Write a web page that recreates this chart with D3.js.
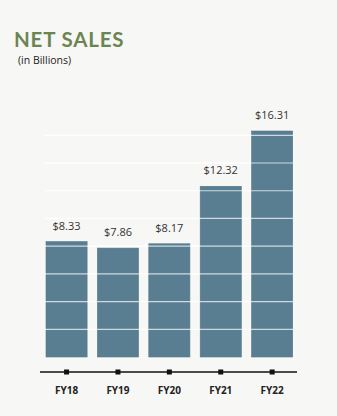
<!DOCTYPE html>
<html>
<head>
<meta charset="utf-8">
<script src="https://cdn.jsdelivr.net/npm/d3@7"></script>
<style>
  html, body { margin: 0; padding: 0; background: #f7f7f5; }
  svg { display: block; }
</style>
</head>
<body>
<svg id="chart"></svg>
<script>
const years = ["FY18", "FY19", "FY20", "FY21", "FY22"];
const sales = [8.33, 7.86, 8.17, 12.32, 16.31];
const gridValues = [2, 4, 6, 8, 10, 12, 14, 16];

const width = 337;
const height = 416;

const svg = d3.select("#chart")
    .attr("width", width)
    .attr("height", height);

svg.append("rect")
    .attr("width", width)
    .attr("height", height)
    .attr("fill", "#f7f7f5");

// title
svg.append("text")
    .attr("x", 14)
    .attr("y", 47)
    .style("font-family", "Lato, 'Open Sans', sans-serif")
    .style("font-weight", "700")
    .style("font-size", "20.5px")
    .style("letter-spacing", "0.8px")
    .attr("fill", "#6b8552")
    .text("NET SALES");

svg.append("text")
    .attr("x", 18)
    .attr("y", 64)
    .style("font-family", "'Open Sans', sans-serif")
    .style("font-size", "10.5px")
    .attr("fill", "#222")
    .text("(in Billions)");

const x = d3.scaleBand()
    .domain(years)
    .range([46, 292.7])
    .paddingInner(0.2)
    .paddingOuter(0);

const y = d3.scaleLinear()
    .domain([0, 16])
    .range([357, 135.3]);

const data = years.map((d, i) => ({ key: d, value: sales[i] }));

// faint gridlines behind
svg.append("g")
    .selectAll("line")
    .data(gridValues)
    .enter()
    .append("line")
    .attr("x1", 45)
    .attr("x2", 293)
    .attr("y1", d => y(d))
    .attr("y2", d => y(d))
    .attr("stroke", "#ffffff")
    .attr("stroke-width", 1);

svg.selectAll(".bar")
    .data(data)
    .enter()
    .append("rect")
    .attr("class", "bar")
    .attr("x", d => x(d.key))
    .attr("y", d => y(d.value))
    .attr("width", x.bandwidth())
    .attr("height", d => y(0) - y(d.value))
    .attr("fill", "#5a7e91")
    .attr("stroke", "#50788b")
    .attr("stroke-width", 0.6);

// gridlines over the bars
svg.append("g")
    .selectAll("line")
    .data(gridValues)
    .enter()
    .append("line")
    .attr("x1", 45)
    .attr("x2", 293)
    .attr("y1", d => y(d))
    .attr("y2", d => y(d))
    .attr("stroke", "#ffffff")
    .attr("stroke-opacity", 0.7)
    .attr("stroke-width", 1.2);

svg.selectAll(".label")
    .data(data)
    .enter()
    .append("text")
    .attr("class", "label")
    .attr("x", d => x(d.key) + x.bandwidth() / 2)
    .attr("y", d => y(d.value) - 12)
    .attr("text-anchor", "middle")
    .style("font-family", "'Open Sans', sans-serif")
    .style("font-size", "11px")
    .attr("fill", "#333")
    .text(d => "$" + d3.format(".2f")(d.value));

// x axis
const axisY = 372;
const xAxis = svg.append("g")
    .attr("transform", `translate(0, ${axisY})`)
    .call(d3.axisBottom(x).tickSize(0).tickPadding(15));

xAxis.select(".domain").remove();
xAxis.insert("line", ":first-child")
    .attr("x1", 40)
    .attr("x2", 297)
    .attr("stroke", "#111")
    .attr("stroke-width", 1.3);

xAxis.selectAll(".tick")
    .append("rect")
    .attr("x", -2.5)
    .attr("y", -2.5)
    .attr("width", 5)
    .attr("height", 5)
    .attr("fill", "#111");

xAxis.selectAll(".tick text")
    .style("font-family", "'Open Sans', sans-serif")
    .style("font-weight", "700")
    .style("font-size", "10px")
    .attr("fill", "#222");
</script>
</body>
</html>
